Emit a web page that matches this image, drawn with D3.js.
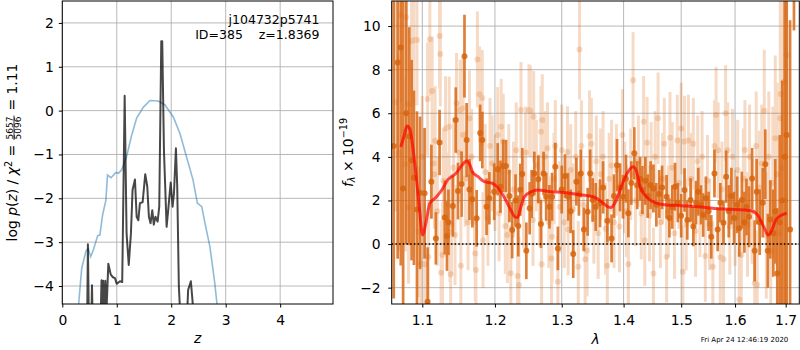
<!DOCTYPE html>
<html lang="en">
	<head>
		<meta charset="utf-8">
		<title>redshift fit</title>
		<script type="text/javascript" src="https://cdnjs.cloudflare.com/ajax/libs/d3/7.8.5/d3.min.js"></script>
		<style type="text/css">
			body { margin: 0; background: #fff; }
			text { font-family: "DejaVu Sans", sans-serif; }
		</style>
	</head>
	<body>
		<script type="text/javascript">

			//p(z) panel: prior/template curve (blue) and fit curve (dark)
			var zPrior = [0.26, 0.30, 0.356, 0.435, 0.478, 0.52, 0.57, 0.65, 0.69, 0.74, 0.80, 0.83, 0.894, 0.985, 1.03, 1.09, 1.18, 1.27, 1.365, 1.49, 1.61, 1.76, 1.885, 2.04, 2.16, 2.28, 2.40, 2.48, 2.56, 2.62, 2.71, 2.80, 2.84, 2.90];
			var logpPrior = [-5.0, -4.41, -3.6, -3.2, -3.15, -3.33, -3.18, -2.85, -2.84, -2.38, -2.04, -1.47, -1.53, -1.41, -1.43, -1.35, -1.05, -0.58, -0.17, 0.08, 0.23, 0.22, 0.13, -0.15, -0.52, -1.05, -1.58, -2.11, -2.19, -2.57, -3.1, -3.94, -4.41, -5.0];

			var zFit = [0.40, 0.455, 0.47, 0.49, 0.53, 0.545, 0.56, 0.70, 0.72, 0.735, 0.75, 0.765, 0.79, 0.81, 0.845, 0.89, 0.93, 0.967, 1.00, 1.06, 1.10, 1.145, 1.18, 1.22, 1.26, 1.29, 1.334, 1.365, 1.396, 1.425, 1.475, 1.523, 1.56, 1.59, 1.62, 1.652, 1.68, 1.71, 1.75, 1.78, 1.817, 1.835, 1.866, 1.915, 1.95, 1.99, 2.025, 2.05, 2.086, 2.11, 2.14, 2.18, 2.28, 2.31, 2.36, 2.39, 2.42];
			var logpFit = [-5.5, -5.0, -3.05, -5.0, -5.0, -3.98, -5.0, -5.0, -3.87, -5.0, -3.88, -5.0, -3.88, -4.6, -3.49, -3.74, -3.80, -3.82, -3.95, -3.89, -3.91, 0.34, -2.80, -3.52, -2.80, -1.81, -1.57, -2.42, -2.50, -2.11, -2.09, -1.45, -1.73, -2.42, -2.57, -2.27, -2.60, -2.42, -2.53, -2.19, 1.58, 1.58, -0.90, -2.65, -2.19, -1.64, -2.19, -1.89, -0.86, -1.73, -4.02, -5.0, -5.0, -4.09, -3.89, -4.32, -5.0];

			var zTicks = [0, 1, 2, 3, 4];
			var pTicks = [-4, -3, -2, -1, 0, 1, 2];

			//spectrum panel: strong points
			var darkWave = [1.063, 1.068, 1.072, 1.075, 1.079, 1.083, 1.086, 1.089, 1.093, 1.097, 1.103, 1.107, 1.112, 1.118, 1.123, 1.130, 1.133, 1.135, 1.141, 1.145, 1.148,
				1.153, 1.157, 1.160, 1.164, 1.168, 1.174, 1.179, 1.182, 1.188, 1.192, 1.199, 1.204, 1.208, 1.212, 1.216, 1.221, 1.225, 1.230, 1.234, 1.237, 1.240, 1.246, 1.251,
				1.254, 1.258, 1.264, 1.268, 1.272, 1.276, 1.281, 1.285, 1.290, 1.294, 1.300, 1.305, 1.310, 1.314, 1.318, 1.323, 1.327, 1.330, 1.335, 1.341, 1.345, 1.349, 1.354,
				1.361, 1.366, 1.373, 1.380, 1.384, 1.389, 1.394, 1.399, 1.404, 1.408, 1.413, 1.418, 1.423, 1.428, 1.432, 1.437, 1.441, 1.446, 1.451, 1.456, 1.461, 1.466,
				1.474, 1.479, 1.484, 1.489, 1.494, 1.500, 1.506, 1.511, 1.517, 1.522, 1.527, 1.531, 1.536, 1.540, 1.545, 1.550, 1.555, 1.561, 1.567, 1.572, 1.578,
				1.583, 1.588, 1.593, 1.598, 1.604, 1.608, 1.613, 1.618, 1.622, 1.627, 1.633, 1.638, 1.642, 1.648, 1.654, 1.659, 1.664, 1.669, 1.675, 1.679, 1.683, 1.688, 1.693, 1.698, 1.702, 1.709, 1.717];
			var darkFlux = [4.5, 8.33, 9.02, 2.55, 6.0, 4.95, 3.85, 3.04, 1.59, 2.35, 2.33, -2.65, 2.86, 0.26, 4.66, 1.22, 0.37, 1.0, 1.74, 5.69, 2.43,
				2.75, 8.62, 4.77, 2.5, 2.06, 1.18, 5.1, 4.77, 1.71, 2.1, 2.4, 3.43, 2.63, 3.58, 3.58, 2.2, 0.64, 2.0, 0.83, 2.49, 3.21, -0.31, 1.64,
				2.3, 3.24, 2.97, 0.92, 3.24, 2.17, 1.71, 2.17, 3.55, -0.2, 2.5, 3.12, 2.17, 1.5, -0.46, 2.86, 2.3, 3.24, 0.67, 1.48, 3.24, 2.02, 1.7,
				1.87, 2.6, 1.07, 0.26, 2.2, 3.62, 2.6, 2.17, 3.0, 1.41, 2.8, 4.16, 2.7, 3.0, 2.48, 2.9, 2.2, 2.7, 2.55, 1.8, 2.3, 2.6,
				2.17, 1.2, 1.7, 2.63, 1.9, 1.3, 2.48, 1.1, 2.02, 0.8, 1.9, 2.4, 1.8, 1.33, 2.1, 1.5, 0.33, 3.24, 0.67, 1.9, 0.98,
				3.09, 1.5, 2.2, 1.2, 1.8, 0.72, 2.02, 1.0, 1.7, 1.25, 3.01, -0.31, 2.40, 1.0, 1.9, 3.66, -0.31, 1.13, 0.5, 1.5, -1.35, 1.0, 2.0, 4.0, 5.0, 0.67, 11.5];
			var darkErr = [7.0, 9.0, 10.0, 9.0, 6.0, 5.0, 4.6, 4.0, 4.5, 3.5, 3.0, 2.5, 1.7, 1.2, 1.5, 1.7, 1.6, 1.5, 1.4, 1.5, 1.3,
				1.5, 1.9, 1.7, 1.4, 1.3, 1.3, 1.3, 1.3, 1.3, 1.2, 1.3, 1.2, 1.2, 1.2, 1.2, 1.2, 1.3, 1.2, 1.4, 1.2, 1.2, 1.3, 1.2,
				1.1, 1.0, 1.1, 1.1, 1.0, 1.1, 1.0, 1.1, 1.1, 1.0, 1.1, 1.0, 1.1, 1.0, 1.1, 1.1, 1.0, 1.1, 1.0, 1.1, 1.1, 1.0, 1.1,
				1.1, 1.2, 1.0, 1.1, 1.0, 1.2, 1.1, 1.0, 1.1, 1.1, 1.0, 1.2, 1.1, 1.0, 1.1, 1.1, 1.0, 1.1, 1.1, 1.0, 1.1, 1.0,
				1.0, 0.9, 1.0, 1.1, 0.9, 1.0, 1.0, 0.9, 1.0, 0.9, 1.0, 1.1, 0.9, 1.0, 1.0, 0.9, 1.0, 1.1, 1.0, 0.9, 1.0,
				1.2, 1.2, 1.3, 1.2, 1.3, 1.3, 1.3, 1.4, 1.3, 1.4, 1.4, 1.4, 1.5, 1.5, 1.6, 1.6, 1.7, 1.8, 2.0, 2.4, 3.0, 4.0, 5.5, 9.0, 10.0, 9.6, 1.7];

			//spectrum panel: faint points
			var lightWave = [1.065, 1.069, 1.072, 1.078, 1.079, 1.081, 1.082, 1.086, 1.089, 1.093,
				1.095, 1.098, 1.100, 1.103, 1.107, 1.108, 1.110, 1.113, 1.115, 1.116,
				1.117, 1.120, 1.123, 1.124, 1.125, 1.127, 1.128, 1.131, 1.134, 1.136,
				1.137, 1.138, 1.139, 1.142, 1.144, 1.146, 1.149, 1.151, 1.152, 1.154,
				1.155, 1.158, 1.162, 1.164, 1.167, 1.171, 1.172, 1.173, 1.175, 1.178,
				1.182, 1.183, 1.186, 1.190, 1.193, 1.196, 1.200, 1.204, 1.206, 1.209,
				1.212, 1.215, 1.218, 1.220, 1.223, 1.227, 1.231, 1.233, 1.235, 1.238,
				1.242, 1.245, 1.250, 1.252, 1.256, 1.257, 1.261, 1.266, 1.268, 1.269,
				1.270, 1.274, 1.278, 1.280, 1.284, 1.285, 1.288, 1.290, 1.294, 1.297,
				1.300, 1.304, 1.309, 1.310, 1.314, 1.318, 1.322, 1.326, 1.328, 1.331,
				1.334, 1.337, 1.340, 1.344, 1.347, 1.351, 1.355, 1.358, 1.362, 1.366,
				1.370, 1.373, 1.376, 1.380, 1.384, 1.388, 1.393, 1.398, 1.402, 1.405,
				1.408, 1.412, 1.416, 1.420, 1.425, 1.430, 1.434, 1.436, 1.440, 1.444,
				1.447, 1.451, 1.454, 1.459, 1.463, 1.467, 1.470, 1.474, 1.477, 1.480,
				1.484, 1.488, 1.493, 1.496, 1.500, 1.503, 1.506, 1.509, 1.513, 1.518,
				1.522, 1.526, 1.530, 1.534, 1.538, 1.544, 1.548, 1.552, 1.558, 1.561,
				1.564, 1.568, 1.572, 1.575, 1.578, 1.582, 1.586, 1.590, 1.595, 1.600,
				1.605, 1.608, 1.612, 1.616, 1.619, 1.624, 1.628, 1.633, 1.638, 1.641,
				1.643, 1.647, 1.652, 1.657, 1.661, 1.666, 1.670, 1.674, 1.679, 1.683,
				1.686, 1.689, 1.690, 1.693, 1.696, 1.699, 1.702];
			var lightFlux = [6.5, 4.16, 10.5, 3.66, 10.4, 6.41, 1.68, 9.3, 9.36, 9.36,
				0.56, -0.9, 4.0, -0.93, 6.65, -0.58, 9.39, 7.02, 3.70, 3.2,
				4.74, 1.5, 9.54, 8.72, -1.32, -0.5, 2.9, 5.3, 1.8, 5.38,
				0.56, -1.38, 0.9, 3.5, 0.41, 6.47, 4.2, 6.15, -1.0, 6.22,
				5.0, 3.0, 1.0, 5.77, 4.0, 1.02, -0.43, -1.19, 8.47, 6.87,
				6.7, 0.18, 3.3, 1.2, 4.5, 3.70, 2.8, 5.0, 1.41, 5.38,
				4.7, 0.83, 0.41, 3.3, -1.34, 2.5, 4.3, -1.47, -1.88, 6.15,
				1.9, 4.2, 6.15, 6.1, 1.10, 5.84, 3.6, 2.0, 5.15, -0.93,
				5.69, 4.0, 4.4, 1.0, -0.66, 0.33, 3.0, 4.50, -1.73, 1.7,
				4.3, 1.0, 4.22, 0.67, 3.4, 1.6, 4.0, -1.04, 8.93, 4.50,
				1.8, -0.70, -0.3, 4.95, 4.6, 1.2, 3.8, 0.5, 3.2, 4.0,
				0.7, -1.0, 3.0, 3.6, 1.0, 3.4, 0.8, 5.0, 2.6, 1.5,
				-0.93, 3.2, 7.52, 2.0, 3.8, 1.4, 5.61, 0.18, 4.65, 1.3,
				3.5, -1.35, 4.0, 5.77, 1.0, 3.0, 4.6, -0.58, 1.5, 4.88,
				3.5, 0.5, 4.75, 2.8, 5.3, -1.27, 4.7, 0.9, 4.75, 3.0,
				4.6, 0.6, 3.8, 1.5, 4.0, -0.55, 2.9, 0.9, -1.04, 4.5,
				5.92, 4.3, -0.6, 2.5, -0.7, 6.0, 4.3, 0.8, 4.0, 1.2,
				3.4, -2.54, -0.5, 3.0, 4.31, 0.9, 4.0, 1.5, -1.80, 4.5,
				-1.87, 2.6, 3.7, 6.11, 0.4, 4.0, -0.3, 2.8, 4.85, 3.2,
				0.5, 5.77, 6.88, 3.5, 7.45, 2.0, 8.67];
			var lightErr = [5.0, 4.5, 4.0, 4.0, 3.5, 3.5, 3.5, 3.0, 3.0, 3.0,
				3.0, 2.8, 2.8, 2.8, 2.6, 2.6, 2.6, 2.5, 2.5, 2.5,
				2.5, 2.5, 2.4, 2.4, 2.4, 2.4, 2.4, 2.4, 2.4, 2.3,
				2.3, 2.3, 2.3, 2.3, 2.3, 2.3, 2.3, 2.3, 2.3, 2.3,
				2.3, 2.2, 2.2, 2.2, 2.2, 2.2, 2.2, 2.2, 2.2, 2.2,
				2.2, 2.2, 2.2, 2.2, 2.2, 2.2, 2.2, 2.2, 2.2, 2.2,
				2.2, 2.2, 2.2, 2.2, 2.2, 2.2, 2.2, 2.2, 2.2, 2.2,
				2.1, 2.1, 2.1, 2.1, 2.1, 2.1, 2.1, 2.1, 2.1, 2.1,
				2.1, 2.1, 2.1, 2.1, 2.1, 2.1, 2.1, 2.1, 2.1, 2.1,
				2.1, 2.1, 2.1, 2.1, 2.1, 2.1, 2.1, 2.1, 2.3, 2.1,
				2.1, 2.1, 2.1, 2.1, 2.1, 2.1, 2.1, 2.1, 2.1, 2.1,
				2.1, 2.1, 2.1, 2.1, 2.1, 2.1, 2.1, 2.1, 2.1, 2.1,
				2.1, 2.1, 2.2, 2.1, 2.1, 2.1, 2.1, 2.1, 2.1, 2.1,
				2.1, 2.1, 2.1, 2.1, 2.1, 2.1, 2.1, 2.1, 2.1, 2.1,
				2.1, 2.1, 2.1, 2.1, 2.1, 2.1, 2.1, 2.1, 2.1, 2.1,
				2.1, 2.1, 2.1, 2.1, 2.1, 2.1, 2.1, 2.1, 2.1, 2.1,
				2.2, 2.2, 2.2, 2.2, 2.2, 2.2, 2.2, 2.2, 2.2, 2.2,
				2.3, 2.3, 2.3, 2.3, 2.3, 2.4, 2.4, 2.4, 2.5, 2.5,
				2.5, 2.6, 2.7, 2.8, 2.9, 3.0, 3.2, 3.5, 3.8, 4.2,
				4.8, 5.5, 6.0, 7.0, 7.5, 8.0, 8.0];

			//best-fit model (red)
			var modelWave = [1.072, 1.076, 1.080, 1.084, 1.087, 1.092, 1.096, 1.1005, 1.105, 1.110, 1.117, 1.126, 1.134, 1.145, 1.153, 1.160, 1.164, 1.168, 1.176, 1.185, 1.1965, 1.203, 1.213, 1.223, 1.229, 1.233, 1.238, 1.243, 1.253, 1.263, 1.283, 1.303, 1.329, 1.350, 1.3636, 1.374, 1.379, 1.388, 1.397, 1.4076, 1.416, 1.422, 1.428, 1.436, 1.448, 1.463, 1.500, 1.530, 1.561, 1.593, 1.631, 1.644, 1.656, 1.665, 1.672, 1.680, 1.692, 1.702];
			var modelFlux = [4.46, 4.92, 5.41, 5.25, 4.6, 3.09, 1.71, 0.41, 1.02, 1.87, 2.10, 2.48, 2.94, 3.24, 3.59, 3.81, 3.67, 3.32, 3.09, 2.86, 2.78, 2.63, 2.17, 1.56, 1.25, 1.22, 1.71, 2.17, 2.40, 2.48, 2.40, 2.37, 2.26, 2.17, 1.94, 1.71, 1.68, 2.02, 2.71, 3.32, 3.55, 3.32, 2.63, 2.25, 1.97, 1.83, 1.76, 1.71, 1.63, 1.60, 1.53, 1.33, 0.79, 0.41, 0.64, 1.10, 1.33, 1.41];

			var lamTicks = [1.1, 1.2, 1.3, 1.4, 1.5, 1.6, 1.7];
			var fTicks = [-2, 0, 2, 4, 6, 8, 10];

			//Width and height
			var w = 800;
			var h = 350;
			var axTop = 1, axBot = 304;
			var fontSize = 13.9;
			var orange = "#d8650f";

			var svg = d3.select("body")
						.append("svg")
						.attr("width", w)
						.attr("height", h);

			//Scales
			var zScale = d3.scaleLinear().domain([0, 4.97]).range([62.3, 333]);
			var pScale = d3.scaleLinear().domain([-4.41, 2.5]).range([axBot, axTop]);
			var lamScale = d3.scaleLog().domain([1.0604, 1.728]).range([391.7, 799.3]);
			var fScale = d3.scaleLinear().domain([-2.75, 11.15]).range([axBot, axTop]);

			var defs = svg.append("defs");
			defs.append("clipPath").attr("id", "clipL")
				.append("rect").attr("x", 62.3).attr("y", axTop).attr("width", 333 - 62.3).attr("height", axBot - axTop);
			defs.append("clipPath").attr("id", "clipR")
				.append("rect").attr("x", 391.7).attr("y", axTop).attr("width", 799.3 - 391.7).attr("height", axBot - axTop);

			//Grid lines
			function grid(xs, ys, xTicks, yTicks) {
				var g = svg.append("g").attr("stroke", "#b0b0b0").attr("stroke-width", 0.9);
				g.selectAll("line.v").data(xTicks).enter().append("line")
					.attr("x1", function(d) { return xs(d); }).attr("x2", function(d) { return xs(d); })
					.attr("y1", axTop).attr("y2", axBot);
				g.selectAll("line.h").data(yTicks).enter().append("line")
					.attr("x1", xs.range()[0]).attr("x2", xs.range()[1])
					.attr("y1", function(d) { return ys(d); }).attr("y2", function(d) { return ys(d); });
			}
			grid(zScale, pScale, zTicks, pTicks);
			grid(lamScale, fScale, lamTicks, fTicks);

			//Left panel curves
			var left = svg.append("g").attr("clip-path", "url(#clipL)");
			left.append("path")
				.datum(d3.range(zPrior.length))
				.attr("fill", "none")
				.attr("stroke", "#1f77b4")
				.attr("stroke-opacity", 0.5)
				.attr("stroke-width", 1.6)
				.attr("d", d3.line()
					.x(function(i) { return zScale(zPrior[i]); })
					.y(function(i) { return pScale(logpPrior[i]); }));
			left.append("path")
				.datum(d3.range(zFit.length))
				.attr("fill", "none")
				.attr("stroke", "#000")
				.attr("stroke-opacity", 0.72)
				.attr("stroke-width", 2)
				.attr("stroke-linejoin", "round")
				.attr("d", d3.line()
					.x(function(i) { return zScale(zFit[i]); })
					.y(function(i) { return pScale(logpFit[i]); }));

			//Right panel error bars
			var right = svg.append("g").attr("clip-path", "url(#clipR)");

			function errorbars(wave, flux, err, barOpacity, dotOpacity, barWidth) {
				var idx = d3.range(wave.length);
				right.append("g").attr("opacity", barOpacity)
					.selectAll("line").data(idx).enter().append("line")
					.attr("x1", function(i) { return lamScale(wave[i]); })
					.attr("x2", function(i) { return lamScale(wave[i]); })
					.attr("y1", function(i) { return fScale(flux[i] - err[i]); })
					.attr("y2", function(i) { return fScale(flux[i] + err[i]); })
					.attr("stroke", orange)
					.attr("stroke-width", barWidth);
				right.append("g").attr("opacity", dotOpacity)
					.selectAll("circle").data(idx).enter().append("circle")
					.attr("cx", function(i) { return lamScale(wave[i]); })
					.attr("cy", function(i) { return fScale(flux[i]); })
					.attr("r", 3)
					.attr("fill", orange);
			}
			errorbars(lightWave, lightFlux, lightErr, 0.24, 0.22, 3);
			errorbars(darkWave, darkFlux, darkErr, 0.82, 0.85, 2.7);

			right.append("path")
				.datum(d3.range(modelWave.length))
				.attr("fill", "none")
				.attr("stroke", "#ff0000")
				.attr("stroke-opacity", 0.7)
				.attr("stroke-width", 3)
				.attr("d", d3.line()
					.curve(d3.curveMonotoneX)
					.x(function(i) { return lamScale(modelWave[i]); })
					.y(function(i) { return fScale(modelFlux[i]); }));

			//zero line
			right.append("line")
				.attr("x1", 391.7).attr("x2", 799.3)
				.attr("y1", fScale(0)).attr("y2", fScale(0))
				.attr("stroke", "#000")
				.attr("stroke-width", 1.5)
				.attr("stroke-dasharray", "1.5,2.2");

			//Axes
			function styleAxis(g) {
				g.select(".domain").remove();
				g.attr("font-size", fontSize).attr("font-family", "DejaVu Sans");
				g.selectAll("text").attr("fill", "#000");
				g.selectAll("line").attr("stroke", "#000");
			}
			svg.append("g")
				.attr("transform", "translate(0," + axBot + ")")
				.call(d3.axisBottom(zScale).tickValues(zTicks).tickSize(3.5).tickPadding(7.5).tickFormat(d3.format("d")))
				.call(styleAxis);
			svg.append("g")
				.attr("transform", "translate(62.3,0)")
				.call(d3.axisLeft(pScale).tickValues(pTicks).tickSize(3.5).tickPadding(5).tickFormat(d3.format("d")))
				.call(styleAxis);
			svg.append("g")
				.attr("transform", "translate(0," + axBot + ")")
				.call(d3.axisBottom(lamScale).tickValues(lamTicks).tickSize(3.5).tickPadding(7.5).tickFormat(d3.format(".1f")))
				.call(styleAxis);
			svg.append("g")
				.attr("transform", "translate(391.7,0)")
				.call(d3.axisLeft(fScale).tickValues(fTicks).tickSize(3.5).tickPadding(7.5).tickFormat(d3.format("d")))
				.call(styleAxis);

			//Frames
			svg.append("rect").attr("x", 62.3).attr("y", axTop).attr("width", 333 - 62.3).attr("height", axBot - axTop)
				.attr("fill", "none").attr("stroke", "#000").attr("stroke-width", 1);
			svg.append("rect").attr("x", 391.7).attr("y", axTop).attr("width", 799.3 - 391.7).attr("height", axBot - axTop)
				.attr("fill", "none").attr("stroke", "#000").attr("stroke-width", 1);

			//Annotation
			svg.append("text").attr("x", 319.5).attr("y", 24).attr("text-anchor", "end")
				.attr("font-size", 12.5).text("j104732p5741");
			svg.append("text").attr("x", 319.5).attr("y", 39).attr("text-anchor", "end")
				.attr("font-size", 12.5).style("white-space", "pre").text("ID=385    z=1.8369");

			//x labels
			svg.append("text").attr("x", 197.7).attr("y", 343).attr("text-anchor", "middle")
				.attr("font-size", fontSize).attr("font-style", "italic").text("z");
			svg.append("text").attr("x", 595.5).attr("y", 344).attr("text-anchor", "middle")
				.attr("font-size", fontSize).attr("font-style", "italic").text("λ");

			//left y label with fraction
			var yl = svg.append("g").attr("transform", "translate(17,152.5) rotate(-90)");
			var yli = yl.append("g");
			var t1 = yli.append("text").attr("font-size", fontSize);
			t1.append("tspan").text("log ");
			t1.append("tspan").attr("font-style", "italic").text("p");
			t1.append("tspan").text("(");
			t1.append("tspan").attr("font-style", "italic").text("z");
			t1.append("tspan").text(") / ");
			t1.append("tspan").attr("font-style", "italic").text("χ");
			t1.append("tspan").attr("font-size", 9.7).attr("dy", -5.5).text("2");
			t1.append("tspan").attr("dy", 5.5).style("white-space", "pre").text(" = ");
			var w1 = t1.node().getComputedTextLength();
			var num = yli.append("text").attr("font-size", 9).attr("y", -4.5).text("5657");
			var den = yli.append("text").attr("font-size", 9).attr("y", 4).text("5096");
			var fw = Math.max(num.node().getComputedTextLength(), den.node().getComputedTextLength()) + 1;
			num.attr("x", w1 + 1);
			den.attr("x", w1 + 1);
			yli.append("line").attr("x1", w1 + 0.5).attr("x2", w1 + fw + 1).attr("y1", -3).attr("y2", -3)
				.attr("stroke", "#000").attr("stroke-width", 0.8);
			var t3 = yli.append("text").attr("font-size", fontSize).attr("x", w1 + fw + 1.5)
				.style("white-space", "pre").text(" = 1.11");
			var total = w1 + fw + 1.5 + t3.node().getComputedTextLength();
			yli.attr("transform", "translate(" + (-total / 2) + ",0)");

			//right y label
			var yr = svg.append("text").attr("transform", "translate(352.7,152.5) rotate(-90)")
				.attr("text-anchor", "middle").attr("font-size", fontSize);
			yr.append("tspan").attr("font-style", "italic").text("f");
			yr.append("tspan").attr("font-size", 9.7).attr("font-style", "italic").attr("dy", 2.5).text("λ");
			yr.append("tspan").attr("dy", -2.5).style("white-space", "pre").text(" × 10");
			yr.append("tspan").attr("font-size", 9.7).attr("dy", -5.5).text("−19");

			//timestamp
			svg.append("text").attr("x", 788.3).attr("y", 342).attr("text-anchor", "end")
				.attr("font-size", 7).text("Fri Apr 24 12:46:19 2020");

		</script>
	</body>
</html>
